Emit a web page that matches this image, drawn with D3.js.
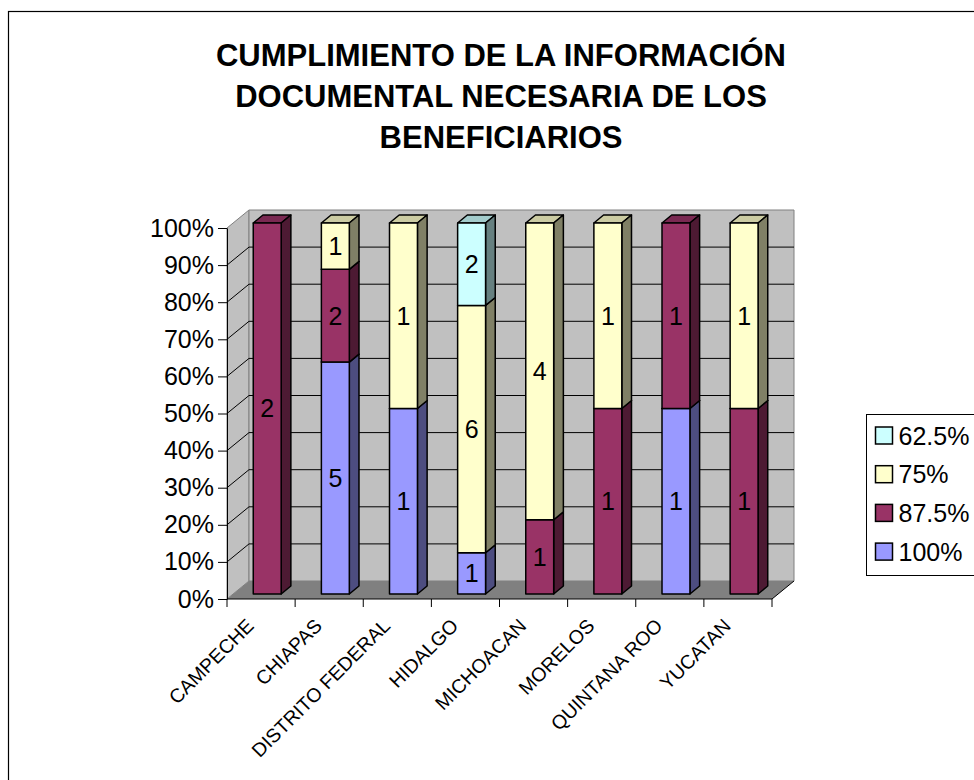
<!DOCTYPE html>
<html>
<head>
<meta charset="utf-8">
<script src="https://cdn.jsdelivr.net/npm/d3@7"></script>
<style>
  body { margin: 0; background: #fff; }
  text { font-family: "Liberation Sans", Arial, sans-serif; }
</style>
</head>
<body>
<div id="chart"></div>
<script>
// data
var categories = ["CAMPECHE", "CHIAPAS", "DISTRITO FEDERAL", "HIDALGO", "MICHOACAN", "MORELOS", "QUINTANA ROO", "YUCATAN"];
var seriesNames = ["100%", "87.5%", "75%", "62.5%"];
var v100  = [0, 5, 1, 1, 0, 0, 1, 0];
var v875  = [2, 2, 0, 0, 1, 1, 1, 1];
var v75   = [0, 1, 1, 6, 4, 1, 0, 1];
var v625  = [0, 0, 0, 2, 0, 0, 0, 0];
var seriesColors = ["#9999FF", "#993366", "#FFFFCC", "#CCFFFF"];
var titleLines = ["CUMPLIMIENTO DE LA INFORMACIÓN", "DOCUMENTAL NECESARIA DE LOS", "BENEFICIARIOS"];

var seriesValues = [v100, v875, v75, v625];
var table = categories.map(function (c, i) {
  var row = { cat: c };
  seriesNames.forEach(function (s, j) { row[s] = seriesValues[j][i]; });
  return row;
});

var width = 974, height = 780;
var svg = d3.select("#chart").append("svg")
  .attr("width", width)
  .attr("height", height);

// outer chart border
svg.append("rect")
  .attr("x", 8.5).attr("y", 11.5)
  .attr("width", 1200).attr("height", 1200)
  .attr("fill", "none").attr("stroke", "#000").attr("stroke-width", 1.2);

// title
svg.append("g").selectAll("text")
  .data(titleLines)
  .enter().append("text")
  .attr("x", 501)
  .attr("y", function (d, i) { return 66 + i * 41; })
  .attr("text-anchor", "middle")
  .style("font-size", "31px")
  .style("font-weight", "bold")
  .text(function (d) { return d; });

// scales + 3d offsets
var x0 = 227, x1 = 772, yBottom = 599, yTop = 228;
var DX = 22, DY = 18;
var x = d3.scaleBand().domain(categories).range([x0, x1]).padding(0);
var y = d3.scaleLinear().domain([0, 1]).range([yBottom, yTop]);
function proj(px, py, z) { return [px + DX * z, py - DY * z]; }

var zf = 0.28, zb = 0.72;
var bw = x.step() * 0.41;

// walls
var walls = svg.append("g");
walls.append("polygon") // left wall
  .attr("points", [proj(x0, yBottom, 0), proj(x0, yTop, 0), proj(x0, yTop, 1), proj(x0, yBottom, 1)].join(" "))
  .attr("fill", "#C0C0C0").attr("stroke", "#808080");
walls.append("polygon") // back wall
  .attr("points", [proj(x0, yBottom, 1), proj(x0, yTop, 1), proj(x1, yTop, 1), proj(x1, yBottom, 1)].join(" "))
  .attr("fill", "#C0C0C0").attr("stroke", "#808080");
walls.append("polygon") // floor
  .attr("points", [proj(x0, yBottom, 0), proj(x1, yBottom, 0), proj(x1, yBottom, 1), proj(x0, yBottom, 1)].join(" "))
  .attr("fill", "#808080").attr("stroke", "none");
walls.append("line") // floor right edge
  .attr("x1", x1).attr("y1", yBottom)
  .attr("x2", proj(x1, yBottom, 1)[0]).attr("y2", proj(x1, yBottom, 1)[1])
  .attr("stroke", "#000");

// gridlines
var gridTicks = y.ticks(10).filter(function (t) { return t > 0 && t < 1; });
var grid = svg.append("g").attr("stroke", "#000").attr("stroke-width", 1);
gridTicks.forEach(function (t) {
  var a = proj(x0, y(t), 0), b = proj(x0, y(t), 1), c = proj(x1, y(t), 1);
  grid.append("polyline").attr("points", [a, b, c].join(" ")).attr("fill", "none");
});

// axes
var yAxis = svg.append("g")
  .attr("transform", "translate(" + x0 + ",0)")
  .call(d3.axisLeft(y).ticks(10).tickFormat(d3.format(".0%")).tickSize(9).tickSizeOuter(0).tickPadding(4));
yAxis.selectAll("text").style("font-size", "25px").attr("fill", "#000");
yAxis.selectAll("line, path").attr("stroke", "#000");

var xAxis = svg.append("g");
xAxis.append("line")
  .attr("x1", x0).attr("x2", x1).attr("y1", yBottom).attr("y2", yBottom)
  .attr("stroke", "#000");
xAxis.selectAll(".tick")
  .data(categories.map(function (c) { return x(c); }).concat([x1]))
  .enter().append("line")
  .attr("x1", function (d) { return d; }).attr("x2", function (d) { return d; })
  .attr("y1", yBottom).attr("y2", yBottom + 8)
  .attr("stroke", "#000");
xAxis.selectAll(".lbl")
  .data(categories)
  .enter().append("text")
  .attr("text-anchor", "end")
  .attr("transform", function (d) {
    return "translate(" + (x(d) + x.bandwidth() / 2 - 6) + "," + 627 + ") rotate(-45)";
  })
  .style("font-size", "19.5px")
  .text(function (d) { return d; });

// stacked bars
var stacked = d3.stack().keys(seriesNames).offset(d3.stackOffsetExpand)(table);

function shade(c, k) {
  var r = d3.rgb(c);
  return d3.rgb(r.r * k, r.g * k, r.b * k).formatHex();
}

var bars = svg.append("g");
categories.forEach(function (cat, i) {
  var fx = x(cat) + (x.step() - bw) / 2;
  stacked.forEach(function (layer, j) {
    var v0 = layer[i][0], v1 = layer[i][1];
    if (v1 - v0 <= 0) return;
    var col = seriesColors[j];
    var g = bars.append("g").attr("stroke", "#000").attr("stroke-width", 1.5).attr("stroke-linejoin", "round");
    // top
    g.append("polygon")
      .attr("points", [proj(fx, y(v1), zf), proj(fx, y(v1), zb), proj(fx + bw, y(v1), zb), proj(fx + bw, y(v1), zf)].join(" "))
      .attr("fill", shade(col, 0.8));
    // side
    g.append("polygon")
      .attr("points", [proj(fx + bw, y(v0), zf), proj(fx + bw, y(v0), zb), proj(fx + bw, y(v1), zb), proj(fx + bw, y(v1), zf)].join(" "))
      .attr("fill", shade(col, 0.5));
    // front
    var p0 = proj(fx, y(v1), zf), p1 = proj(fx + bw, y(v0), zf);
    g.append("rect")
      .attr("x", p0[0]).attr("y", p0[1])
      .attr("width", p1[0] - p0[0]).attr("height", p1[1] - p0[1])
      .attr("fill", col);
    // value label
    bars.append("text")
      .attr("x", (p0[0] + p1[0]) / 2)
      .attr("y", (p0[1] + p1[1]) / 2)
      .attr("text-anchor", "middle")
      .attr("dominant-baseline", "central")
      .style("font-size", "25px")
      .text(table[i][seriesNames[j]]);
  });
});

// legend
var legend = svg.append("g").attr("transform", "translate(866.5,414.5)");
legend.append("rect")
  .attr("width", 130).attr("height", 161)
  .attr("fill", "#fff").attr("stroke", "#000");
var items = seriesNames.map(function (s, j) { return { name: s, color: seriesColors[j] }; }).reverse();
var li = legend.selectAll(".item")
  .data(items)
  .enter().append("g")
  .attr("transform", function (d, i) { return "translate(0," + (21 + i * 38.7) + ")"; });
li.append("rect")
  .attr("x", 9).attr("y", -8.5)
  .attr("width", 17).attr("height", 17)
  .attr("fill", function (d) { return d.color; })
  .attr("stroke", "#000").attr("stroke-width", 1.5);
li.append("text")
  .attr("x", 32)
  .attr("dominant-baseline", "central")
  .style("font-size", "25px")
  .text(function (d) { return d.name; });
</script>
</body>
</html>
